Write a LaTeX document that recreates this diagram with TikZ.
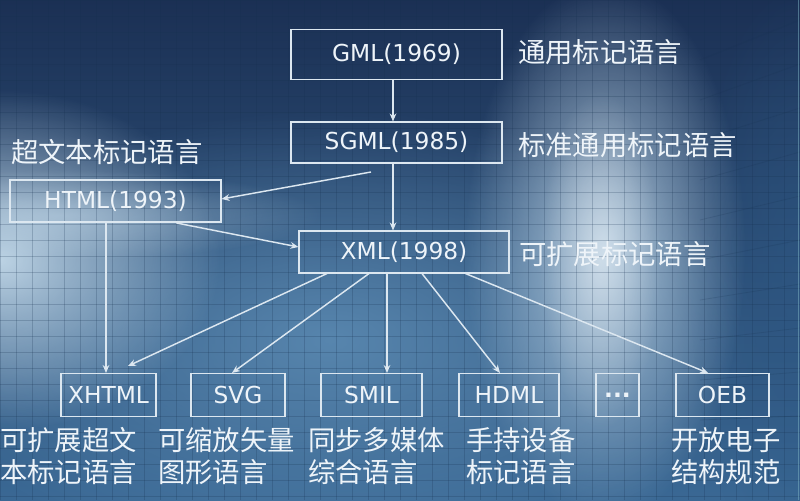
\documentclass[tikz,border=0pt]{standalone}
\usepackage{fontspec}
\setmainfont{DejaVu Sans}
\newfontfamily\cjk{Noto Sans CJK SC}
\usetikzlibrary{arrows.meta,fadings}
\tikzfading[name=glowfade, inner color=transparent!0, outer color=transparent!100]
\definecolor{bgtop}{HTML}{1B3054}
\definecolor{bgmid}{HTML}{3A6893}
\definecolor{bgbot}{HTML}{3A6894}
\definecolor{glowL}{HTML}{C4DAEA}
\definecolor{glowR}{HTML}{B8D0E3}
\definecolor{glowC}{HTML}{5C8BB3}
\definecolor{gridc}{HTML}{16304F}
\definecolor{linec}{HTML}{DCE7F0}
\definecolor{txtc}{HTML}{EEF4F9}
\definecolor{edgec}{HTML}{7FB3C4}
\definecolor{rightc}{HTML}{2E5986}
\tikzset{
  box/.style={draw=linec, line width=0.8pt, inner sep=0pt, minimum width=#1*0.75pt,
    text=txtc, font=\fontsize{17.5}{20}\selectfont},
  lbl/.style={anchor=west, inner sep=0pt, text=txtc, font=\cjk\fontsize{20.5}{23.5}\selectfont},
  blbl/.style={anchor=west, inner sep=0pt, text=txtc, align=left, font=\cjk\fontsize{20.5}{23.5}\selectfont},
  arr/.style={draw=linec, line width=1.1pt, -{Stealth[length=6pt,width=5pt]}}
}
\begin{document}
\begin{tikzpicture}[x=0.75pt,y=-0.75pt]
\useasboundingbox (0,0) rectangle (800,500);
% background
\shade[top color=bgtop, middle color=bgmid, bottom color=bgbot] (0,0) rectangle (800,500);
\begin{scope}
\clip (0,0) rectangle (800,500);
\fill[glowC, path fading=glowfade, opacity=0.9] (330,340) ellipse (430 and 230);
\fill[rightc, path fading=glowfade, opacity=0.6] (800,280) ellipse (110 and 300);
\fill[glowL, path fading=glowfade, opacity=0.95] (0,260) ellipse (220 and 170);
\fill[glowL, path fading=glowfade, opacity=0.5] (60,215) ellipse (260 and 45);
\fill[glowR, path fading=glowfade, opacity=0.95] (605,250) ellipse (140 and 270);
\fill[white, path fading=glowfade, opacity=0.4] (600,260) ellipse (60 and 170);
\foreach \gx in {0,16,...,800} \draw[gridc, opacity=0.22, line width=0.6pt] (\gx,0) -- (\gx,500);
\foreach \gy in {0,16,...,500} \draw[gridc, opacity=0.22, line width=0.6pt] (0,\gy) -- (800,\gy);
\foreach \k in {0,1,...,9} \draw[gridc, opacity=0.18, line width=0.6pt] (700,60+\k*40) -- (800,20+\k*44);
\draw[edgec, opacity=0.5, line width=1pt] (798.5,0) -- (798.5,500);
\end{scope}
% boxes
\node[box=211, minimum height=50*0.75pt] (gml) at (396.5,54.5) {GML(1969)};
\node[box=211, minimum height=41*0.75pt] (sgml) at (396.5,142.5) {SGML(1985)};
\node[box=211, minimum height=42*0.75pt] (html) at (115.5,201) {HTML(1993)};
\node[box=210, minimum height=42*0.75pt] (xml) at (404,252) {XML(1998)};
\node[box=95, minimum height=43*0.75pt] (xhtml) at (108.5,395) {XHTML};
\node[box=94, minimum height=43*0.75pt] (svg) at (238,395) {SVG};
\node[box=101, minimum height=43*0.75pt] (smil) at (371.5,395) {SMIL};
\node[box=100, minimum height=43*0.75pt] (hdml) at (509,395) {HDML};
\node[box=43, minimum height=43*0.75pt, font=\bfseries\fontsize{17.5}{20}\selectfont] (dots) at (617.5,395) {...};
\node[box=93, minimum height=43*0.75pt] (oeb) at (722.5,395) {OEB};
% side labels
\node[lbl] (lgml) at (518,52) {通用标记语言};
\node[lbl] (lsgml) at (518,145) {标准通用标记语言};
\node[lbl] (lhtml) at (11,152) {超文本标记语言};
\node[lbl] (lxml) at (519,254) {可扩展标记语言};
% bottom labels
\node[blbl] (lxhtml) at (0,456) {可扩展超文\\本标记语言};
\node[blbl] (lsvg) at (158,456) {可缩放矢量\\图形语言};
\node[blbl] (lsmil) at (308,456) {同步多媒体\\综合语言};
\node[blbl] (lhdml) at (466,456) {手持设备\\标记语言};
\node[blbl] (loeb) at (671,456) {开放电子\\结构规范};
% connectors
\coordinate (s1) at (371,172);
\coordinate (h1) at (176.5,223);
\coordinate (x1) at (128,366);
\draw[arr] (gml.south -| 393,0) -- (sgml.north -| 393,0);
\draw[arr] (sgml.south -| 393,0) -- (xml.north -| 393,0);
\draw[arr] (s1) -- (html.east |- 0,199);
\draw[arr] (h1) -- (xml.west |- 0,247);
\draw[arr] (html.south -| 106,0) -- (xhtml.north -| 106,0);
\draw[arr] (xml.south -| 327,0) -- (x1);
\draw[arr] (xml.south -| 369,0) -- (svg.north -| 232,0);
\draw[arr] (xml.south -| 387,0) -- (smil.north -| 387,0);
\draw[arr] (xml.south -| 422,0) -- (hdml.north -| 500,0);
\draw[arr] (xml.south -| 465.5,0) -- (oeb.north -| 708,0);
\end{tikzpicture}
\end{document}
